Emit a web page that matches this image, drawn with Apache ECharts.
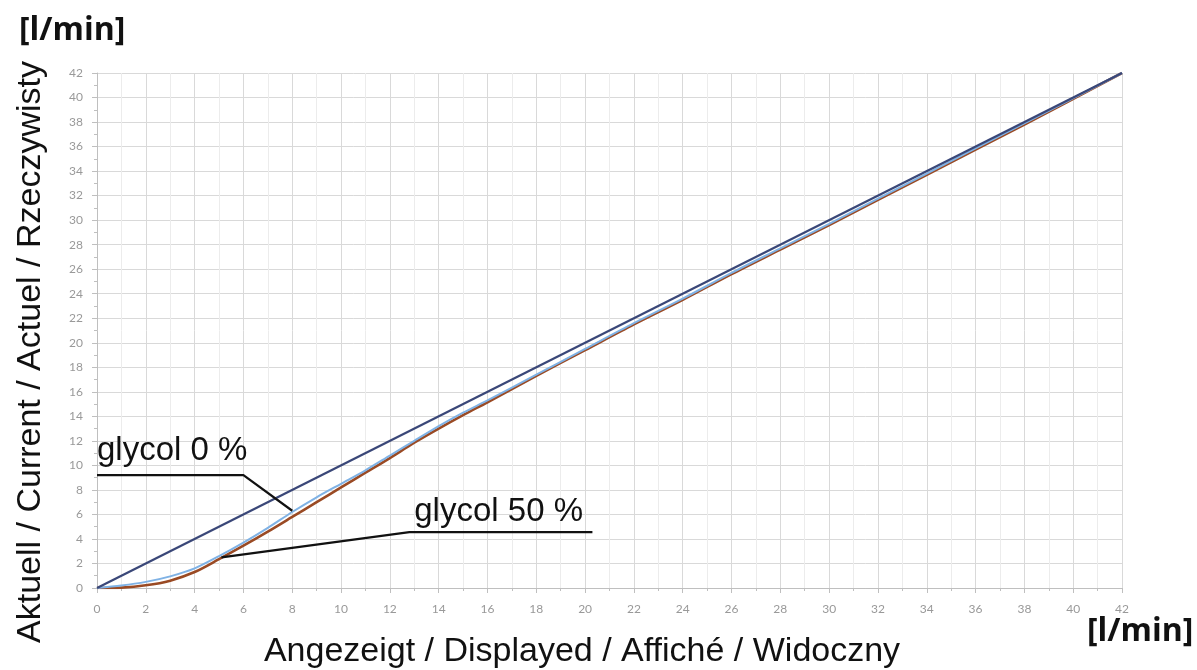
<!DOCTYPE html>
<html>
<head>
<meta charset="utf-8">
<script src="https://cdn.jsdelivr.net/npm/echarts@6/dist/echarts.min.js"></script>
<style>
html,body{margin:0;padding:0;background:#fff;}
#chart{width:1197px;height:670px;}
</style>
</head>
<body>
<div id="chart"></div>
<script>
// ---- data ----
const axisTicks = [0,2,4,6,8,10,12,14,16,18,20,22,24,26,28,30,32,34,36,38,40,42];
const idealX = [0, 42];
const idealY = [0, 42];
const glycol0X = [0,1,2,3,4,5,6,7,8,9,10,11,12,13,14,15,16,18,20,22,24,26,28,30,34,38,42];
const glycol0Y = [0,0.2,0.5,0.95,1.6,2.6,3.7,4.9,6.2,7.4,8.5,9.6,10.8,12.0,13.2,14.3,15.3,17.4,19.5,21.6,23.6,25.7,27.7,29.7,33.8,37.9,42];
const glycol50X = [0,1,2,3,4,5,6,7,8,9,10,11,12,13,14,15,16,18,20,22,24,26,28,30,34,38,42];
const glycol50Y = [0,0.03,0.22,0.6,1.3,2.35,3.45,4.6,5.8,7.0,8.2,9.4,10.6,11.85,13.0,14.1,15.15,17.3,19.4,21.5,23.5,25.6,27.6,29.6,33.7,37.8,42];
// annotation callouts (in data units)
const label0Text = 'glycol 0 %';
const label0Line = [[0,9.2],[6,9.2],[8,6.3]];
const label0Pos = [0,11.2];
const label50Text = 'glycol 50 %';
const label50Line = [[5.1,2.5],[12.8,4.55],[20.3,4.55]];
const label50Pos = [13.0,6.2];

const pairs = (xs, ys) => xs.map((x, i) => [x, ys[i]]);

const chart = echarts.init(document.getElementById('chart'));
const gridColor = '#d9d9d9';
const minorColor = '#ececec';
const axisColor = '#bfbfbf';
const tickLabel = {color:'#999999', fontFamily:'Lato', fontSize:12};

const annoLine = (data) => ({
  type:'line', data:data, symbol:'none', silent:true, z:5,
  lineStyle:{color:'#111', width:2.2}, animation:false
});

chart.setOption({
  animation:false,
  grid:{left:97, right:75, top:73, bottom:82},
  xAxis:{
    type:'value', min:0, max:42, interval:2,
    axisLine:{show:true, lineStyle:{color:axisColor}},
    axisTick:{show:true, length:5, lineStyle:{color:axisColor}},
    minorTick:{show:true, splitNumber:2, length:3, lineStyle:{color:axisColor}},
    splitLine:{show:true, lineStyle:{color:gridColor}},
    minorSplitLine:{show:true, lineStyle:{color:minorColor}},
    axisLabel:Object.assign({margin:15, formatter:v => axisTicks.includes(v) ? String(v) : ''}, tickLabel)
  },
  yAxis:{
    type:'value', min:0, max:42, interval:2,
    axisLine:{show:true, lineStyle:{color:axisColor}},
    axisTick:{show:true, length:5, lineStyle:{color:axisColor}},
    minorTick:{show:true, splitNumber:2, length:3, lineStyle:{color:axisColor}},
    splitLine:{show:true, lineStyle:{color:gridColor}},
    minorSplitLine:{show:false},
    axisLabel:Object.assign({margin:14, formatter:v => axisTicks.includes(v) ? String(v) : ''}, tickLabel)
  },
  series:[
    {type:'line', name:'glycol 50 %', data:pairs(glycol50X, glycol50Y), smooth:0.3, symbol:'none',
     lineStyle:{color:'#9a4a24', width:2.6}, z:2},
    {type:'line', name:'glycol 0 %', data:pairs(glycol0X, glycol0Y), smooth:0.3, symbol:'none',
     lineStyle:{color:'#7fb2e5', width:2}, z:3},
    {type:'line', name:'ideal', data:pairs(idealX, idealY), symbol:'none',
     lineStyle:{color:'#3a4778', width:2.2}, z:4},
    annoLine(label0Line),
    annoLine(label50Line)
  ]
});

const p0 = chart.convertToPixel({gridIndex:0}, label0Pos);
const p50 = chart.convertToPixel({gridIndex:0}, label50Pos);
chart.setOption({
  graphic:[
    {type:'text', left:19, top:15, style:{text:'[l/min]', font:'bold 32px "Open Sans"', fill:'#111'}},
    {type:'text', left:1087, top:616, style:{text:'[l/min]', font:'bold 32px "Open Sans"', fill:'#111'}},
    {type:'text', x:582, y:652, style:{text:'Angezeigt / Displayed / Affiché / Widoczny', font:'34px "Liberation Sans"', fill:'#111', align:'center', verticalAlign:'middle'}},
    {type:'text', x:31, y:352, rotation:Math.PI/2, style:{text:'Aktuell / Current / Actuel / Rzeczywisty', font:'34px "Liberation Sans"', fill:'#111', align:'center', verticalAlign:'middle'}},
    {type:'text', x:p0[0], y:p0[1], z:10, style:{text:label0Text, font:'33px "Liberation Sans"', fill:'#111', align:'left', verticalAlign:'middle'}},
    {type:'text', x:p50[0], y:p50[1], z:10, style:{text:label50Text, font:'33px "Liberation Sans"', fill:'#111', align:'left', verticalAlign:'middle'}}
  ]
});
</script>
</body>
</html>
